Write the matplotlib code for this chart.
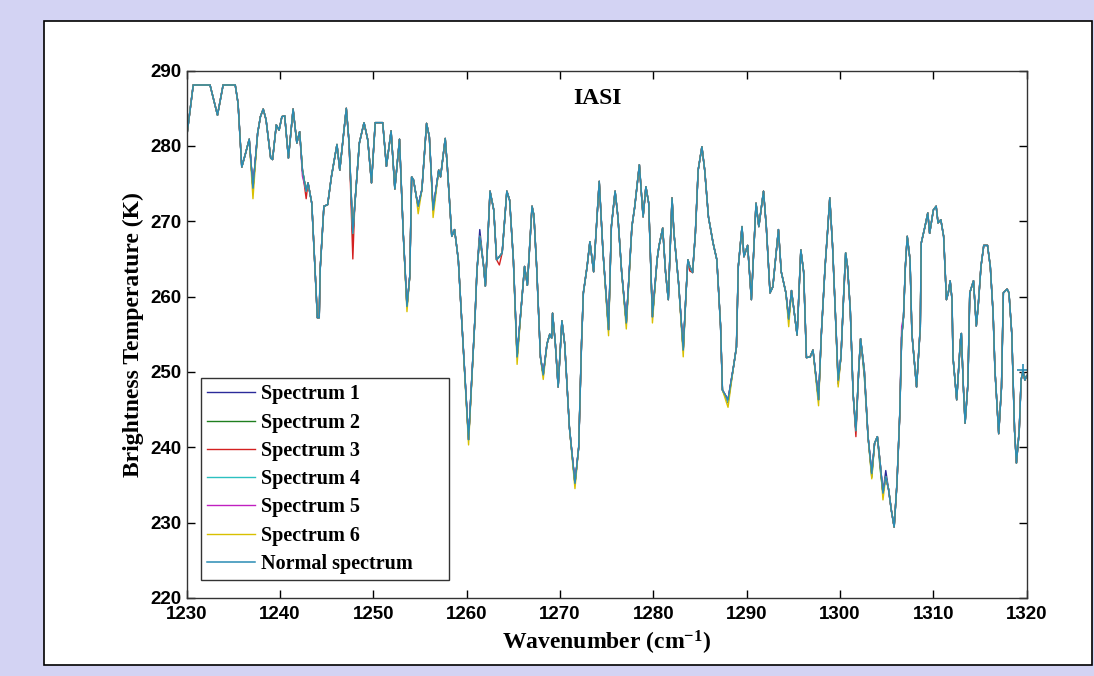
import numpy as np
import matplotlib
matplotlib.use("Agg")
import matplotlib.pyplot as plt
from matplotlib.patches import Rectangle

plt.rcParams["mathtext.fontset"] = "custom"
plt.rcParams["mathtext.rm"] = "Liberation Serif:bold"
plt.rcParams["mathtext.it"] = "Liberation Serif:bold"
plt.rcParams["mathtext.bf"] = "Liberation Serif:bold"

# ---------------- data ----------------
wavenumber = [
    1230.0, 1230.7, 1232.5, 1233.3, 1233.9, 1235.2, 1235.5, 1235.9, 1236.3, 1236.7,
    1237.1, 1237.6, 1237.9, 1238.2, 1238.5, 1239.0, 1239.2, 1239.6, 1239.9, 1240.2,
    1240.5, 1240.9, 1241.4, 1241.8, 1242.1, 1242.4, 1242.8, 1243.0, 1243.4, 1243.7,
    1243.9, 1244.0, 1244.2, 1244.3, 1244.7, 1245.1, 1245.5, 1246.1, 1246.4, 1247.1,
    1247.4, 1247.8, 1248.0, 1248.5, 1249.0, 1249.4, 1249.8, 1250.2, 1251.0, 1251.4,
    1251.9, 1252.3, 1252.8, 1253.2, 1253.6, 1253.9, 1254.1, 1254.3, 1254.6, 1254.8,
    1255.2, 1255.7, 1256.0, 1256.4, 1257.0, 1257.2, 1257.7, 1257.9, 1258.4, 1258.7,
    1259.1, 1259.5, 1260.2, 1260.9, 1261.1, 1261.4, 1261.8, 1262.0, 1262.2, 1262.5,
    1262.9, 1263.2, 1263.5, 1263.8, 1264.3, 1264.6, 1265.0, 1265.4, 1265.9, 1266.2,
    1266.5, 1267.0, 1267.2, 1267.5, 1267.9, 1268.2, 1268.6, 1268.9, 1269.1, 1269.2,
    1269.5, 1269.8, 1270.2, 1270.5, 1271.0, 1271.6, 1272.0, 1272.3, 1272.5, 1272.9,
    1273.2, 1273.6, 1274.2, 1274.6, 1275.2, 1275.5, 1275.9, 1276.2, 1276.6, 1277.1,
    1277.7, 1278.0, 1278.5, 1278.9, 1279.2, 1279.5, 1279.7, 1279.9, 1280.4, 1280.6,
    1281.0, 1281.3, 1281.6, 1282.0, 1282.2, 1282.7, 1283.2, 1283.5, 1283.7, 1283.9,
    1284.2, 1284.5, 1284.8, 1285.2, 1285.5, 1285.9, 1286.4, 1286.8, 1287.2, 1287.4,
    1288.0, 1288.6, 1288.9, 1289.1, 1289.5, 1289.7, 1290.1, 1290.5, 1291.0, 1291.3,
    1291.8, 1292.1, 1292.5, 1292.8, 1293.4, 1293.7, 1294.2, 1294.5, 1294.8, 1295.1,
    1295.4, 1295.8, 1296.1, 1296.4, 1296.8, 1297.1, 1297.7, 1298.0, 1298.4, 1298.7,
    1298.9, 1299.2, 1299.5, 1299.8, 1300.1, 1300.4, 1300.6, 1300.8, 1301.1, 1301.4,
    1301.7, 1302.0, 1302.2, 1302.6, 1303.0, 1303.4, 1303.7, 1304.0, 1304.3, 1304.6,
    1304.9, 1305.2, 1305.5, 1305.8, 1306.1, 1306.4, 1306.6, 1306.8, 1307.0, 1307.2,
    1307.5, 1307.7, 1308.2, 1308.6, 1308.7, 1309.1, 1309.4, 1309.6, 1310.0, 1310.3,
    1310.5, 1310.8, 1311.1, 1311.4, 1311.6, 1311.8, 1312.0, 1312.1, 1312.5, 1312.9,
    1313.0, 1313.2, 1313.4, 1313.7, 1313.9, 1314.3, 1314.6, 1314.8, 1315.1, 1315.4,
    1315.8, 1316.1, 1316.4, 1316.6, 1317.0, 1317.3, 1317.5, 1317.9, 1318.1, 1318.4,
    1318.7, 1318.9, 1319.2, 1319.4, 1319.6, 1319.8, 1320.0,
]
normal_bt = [
    281.2, 288.1, 288.1, 284.1, 288.1, 288.1, 285.7, 277.2, 279.0, 280.9,
    274.4, 281.7, 283.9, 284.9, 283.5, 278.4, 278.2, 282.8, 282.1, 283.9,
    284.0, 278.4, 284.9, 280.4, 281.9, 276.8, 274.0, 275.1, 272.4, 264.9,
    259.6, 257.2, 257.2, 263.6, 272.0, 272.2, 275.9, 280.2, 276.8, 285.0,
    280.4, 268.4, 272.0, 280.4, 283.1, 280.8, 275.1, 283.1, 283.1, 277.3,
    282.0, 274.3, 280.9, 268.4, 258.7, 262.7, 275.9, 275.5, 273.3, 272.0,
    274.2, 283.0, 281.2, 271.5, 276.8, 275.9, 281.0, 277.7, 268.0, 268.9,
    264.9, 256.1, 241.0, 257.5, 263.5, 268.0, 264.2, 261.4, 266.0, 274.0,
    271.5, 264.9, 265.3, 265.8, 274.0, 272.8, 264.9, 252.0, 259.6, 264.0,
    261.5, 272.0, 270.8, 263.8, 252.0, 249.6, 253.7, 255.0, 254.5, 257.8,
    253.7, 248.0, 256.8, 253.7, 242.7, 235.2, 240.0, 253.7, 260.5, 264.0,
    267.3, 263.3, 275.3, 266.0, 255.6, 269.3, 274.0, 270.6, 263.3, 256.5,
    269.3, 271.9, 277.5, 270.6, 274.6, 272.4, 264.9, 257.3, 264.9, 266.7,
    269.1, 263.3, 259.6, 273.1, 268.5, 261.8, 252.9, 260.5, 264.9, 264.0,
    263.2, 268.4, 276.8, 279.9, 276.8, 270.6, 267.1, 264.9, 256.1, 247.6,
    246.3, 250.8, 253.3, 264.0, 269.3, 265.3, 266.8, 259.6, 272.4, 269.3,
    274.0, 269.3, 260.5, 261.3, 268.9, 263.3, 260.5, 257.0, 260.8, 257.8,
    254.9, 266.2, 263.3, 251.9, 252.0, 252.9, 246.3, 255.1, 264.0, 269.3,
    273.1, 266.7, 257.8, 248.9, 252.0, 260.5, 265.8, 264.0, 258.2, 247.1,
    242.2, 250.2, 254.4, 250.2, 241.4, 236.5, 240.5, 241.4, 237.9, 233.9,
    236.1, 234.4, 231.6, 229.4, 235.2, 244.4, 254.6, 257.3, 264.0, 268.0,
    264.9, 255.1, 248.0, 256.0, 267.1, 269.3, 271.1, 268.4, 271.5, 272.0,
    269.8, 270.2, 268.0, 259.6, 260.5, 262.1, 259.6, 252.0, 246.3, 254.2,
    255.1, 248.4, 243.2, 248.4, 260.5, 262.1, 256.1, 258.7, 264.0, 266.8,
    266.8, 264.0, 257.8, 250.2, 241.8, 248.0, 260.5, 261.0, 260.5, 255.1,
    242.2, 237.9, 242.2, 248.9, 250.2, 248.9, 249.5,
]

# Spectra 1-6 coincide with the normal spectrum except at these points
spectrum1_diff = {1261.4: 268.9, 1288.0: 245.9, 1304.9: 236.9, 1299.8: 248.4}
spectrum2_diff = {1302.6: 249.4, 1304.3: 237.1, 1247.8: 267.8, 1303.4: 236.0}
spectrum3_diff = {1242.8: 273.0, 1247.8: 265.0, 1263.5: 264.2, 1283.9: 263.4,
                  1300.6: 264.5, 1301.7: 241.4}
spectrum4_diff = {1288.0: 246.0}
spectrum5_diff = {1306.6: 256.0, 1242.4: 276.0}
spectrum6_diff = {1237.1: 273.0, 1253.6: 258.0, 1254.8: 271.0, 1256.4: 270.5,
                  1260.2: 240.3, 1265.4: 251.0, 1268.2: 249.0, 1271.6: 234.5,
                  1275.2: 254.8, 1277.1: 255.7, 1279.9: 256.5, 1283.2: 252.0,
                  1288.0: 245.3, 1294.5: 256.0, 1297.7: 245.5, 1299.8: 248.0,
                  1303.4: 235.8, 1304.6: 233.0}

series_names = ["Spectrum 1", "Spectrum 2", "Spectrum 3", "Spectrum 4",
                "Spectrum 5", "Spectrum 6", "Normal spectrum"]
cursor_wn = [1319.6]
cursor_bt = [250.2]

x_ticks = [1230, 1240, 1250, 1260, 1270, 1280, 1290, 1300, 1310, 1320]
y_ticks = [220, 230, 240, 250, 260, 270, 280, 290]

# ---------------- styling ----------------
colors = ["#2b2b9a", "#1f7f1f", "#d42020", "#2cc0c0", "#c020c0", "#d8c000", "#2a8cb4"]
serif = "Liberation Serif"
sans = "Liberation Sans"

W, H = 1094, 676
fig = plt.figure(figsize=(W / 100, H / 100), dpi=100)
fig.patch.set_facecolor("#d3d3f3")
fig.patches.append(Rectangle((44 / W, 1 - 665 / H), (1092 - 44) / W, (665 - 21) / H,
                             transform=fig.transFigure, facecolor="white",
                             edgecolor="black", linewidth=1.2, zorder=-10))

ax_l, ax_r, ax_t, ax_b = 186.7, 1026.7, 70.7, 597.8
ax = fig.add_axes([ax_l / W, 1 - ax_b / H, (ax_r - ax_l) / W, (ax_b - ax_t) / H])
ax.set_zorder(5)
ax.set_facecolor("white")

wn = np.array(wavenumber)
bt = np.array(normal_bt)
diffs = [spectrum1_diff, spectrum2_diff, spectrum3_diff, spectrum4_diff,
         spectrum5_diff, spectrum6_diff]
for k, d in enumerate(diffs):
    s = bt.copy()
    for w, v in d.items():
        s[np.argmin(np.abs(wn - w))] = v
    ax.plot(wn, s, color=colors[k], lw=1.0, label=series_names[k])
ax.plot(wn, bt, color=colors[6], lw=1.1, label=series_names[6])
ax.plot(cursor_wn, cursor_bt, "+", color=colors[6], ms=9, mew=1.2)

ax.set_xlim(1230, 1320)
ax.set_ylim(220, 290)
ax.set_xticks(x_ticks)
ax.set_yticks(y_ticks)
ax.tick_params(direction="in", length=6, width=1, top=True, right=True,
               labelsize=13.5)
ax.tick_params(axis="x", pad=6)
ax.tick_params(axis="y", pad=4)
for lab in ax.get_xticklabels() + ax.get_yticklabels():
    lab.set_fontfamily(sans)
    lab.set_fontweight("bold")
for sp in ax.spines.values():
    sp.set_linewidth(1.0)
    sp.set_color("#333333")

ax.set_xlabel("Wavenumber (cm$^{-1}$)", fontfamily=serif, fontweight="bold",
              fontsize=17, labelpad=4)
ax.set_ylabel("Brightness Temperature (K)", fontfamily=serif, fontweight="bold",
              fontsize=17, labelpad=4)

ax.text((597 - ax_l) / (ax_r - ax_l), (ax_b - 98) / (ax_b - ax_t), "IASI",
        transform=ax.transAxes, ha="center", va="center",
        fontfamily=serif, fontweight="bold", fontsize=17)

leg_l, leg_r, leg_b = 201, 449, 580
leg = ax.legend(loc="lower left",
                bbox_to_anchor=((leg_l - ax_l) / (ax_r - ax_l), (ax_b - leg_b) / (ax_b - ax_t),
                                (leg_r - leg_l) / (ax_r - ax_l), 0.1),
                mode="expand",
                prop={"family": serif, "weight": "bold", "size": 14.5},
                frameon=True, fancybox=False, edgecolor="black",
                handlelength=2.4, handletextpad=0.3, labelspacing=0.41,
                borderpad=0.3, borderaxespad=0)
leg.get_frame().set_linewidth(1.0)

fig.savefig("out.png", dpi=100, facecolor=fig.get_facecolor())
